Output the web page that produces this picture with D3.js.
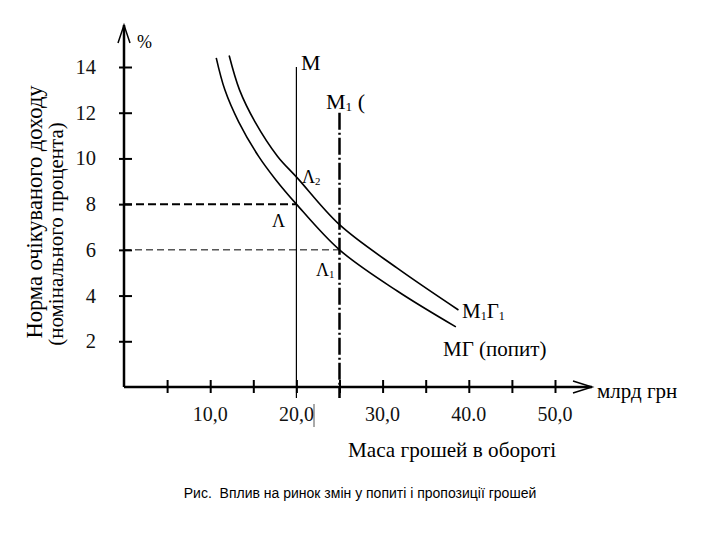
<!DOCTYPE html>
<html><head><meta charset="utf-8">
<script src="https://cdn.jsdelivr.net/npm/d3@7"></script>
<style>body{margin:0;background:#fff}svg{display:block}</style>
</head><body>
<svg id="c" width="720" height="540"></svg>
<script>
// ---- data ----
const xTicks = [5,10,15,20,25,30,35,40,45,50];
const xTickLabels = [{v:10,t:"10,0"},{v:20,t:"20,0"},{v:30,t:"30,0"},{v:40,t:"40.0"},{v:50,t:"50,0"}];
const yTicks = [2,4,6,8,10,12,14];
// demand curve МГ (x = bn UAH, y = %)
const demandX = [10.7,11.7,13.3,15.6,17.6,20.0,25.0,31.7,38.5];
const demandY = [14.4,13.0,11.6,10.1,9.07,8.0,6.0,4.2,2.63];
// shifted demand curve М1Г1
const demand1X = [12.2,13.4,15.2,17.8,20.1,25.0,31.7,38.8];
const demand1Y = [14.5,13.0,11.6,10.1,9.15,7.1,5.2,3.37];
const supplyM = 20, supplyM1 = 25;
const rateA = 8, rateA1 = 6;

const svg = d3.select("#c");
const serif = "'Liberation Serif','Times New Roman',serif";
const x = d3.scaleLinear().domain([0,50]).range([124,555]);
const y = d3.scaleLinear().domain([0,14]).range([387,67]);

// axes lines
svg.append("line").attr("x1",x(0)).attr("x2",592).attr("y1",y(0)).attr("y2",y(0)).attr("stroke","#000").attr("stroke-width",2.5);
svg.append("line").attr("x1",x(0)).attr("x2",x(0)).attr("y1",y(0)).attr("y2",25).attr("stroke","#000").attr("stroke-width",2.5);
// arrowheads
svg.append("path").attr("d",`M118,43 L124,25 L130,43`).attr("fill","none").attr("stroke","#000").attr("stroke-width",1.5);
svg.append("path").attr("d",`M573,381 L592,387 L573,393`).attr("fill","none").attr("stroke","#000").attr("stroke-width",1.5);

// axis ticks via d3 axes
const yAxis = svg.append("g").attr("transform",`translate(${x(0)},0)`)
  .call(d3.axisLeft(y).tickValues(yTicks).tickSize(5).tickFormat(""));
yAxis.select(".domain").remove();
yAxis.selectAll(".tick line").attr("x1",8).attr("x2",-5).attr("stroke","#000").attr("stroke-width",2);
const xAxis = svg.append("g").attr("transform",`translate(0,${y(0)})`)
  .call(d3.axisBottom(x).tickValues(xTicks).tickSize(6).tickFormat(""));
xAxis.select(".domain").remove();
xAxis.selectAll(".tick line").attr("y1",-7).attr("y2",6).attr("stroke","#000").attr("stroke-width",2);

// tick labels
svg.selectAll("text.yl").data(yTicks).enter().append("text")
  .attr("x",96).attr("y",d=>y(d)+7).attr("text-anchor","end")
  .attr("font-family",serif).attr("font-size",20.5).attr("fill","#111").text(d=>d);
svg.selectAll("text.xl").data(xTickLabels).enter().append("text")
  .attr("x",d=>x(d.v)).attr("y",421).attr("text-anchor","middle")
  .attr("font-family",serif).attr("font-size",20).attr("fill","#111").text(d=>d.t);
// stray cursor mark after 20,0
svg.append("line").attr("x1",314).attr("x2",314).attr("y1",404).attr("y2",427).attr("stroke","#555").attr("stroke-width",1);

// reference lines
svg.append("line").attr("x1",x(0)).attr("x2",x(supplyM)).attr("y1",y(rateA)).attr("y2",y(rateA))
  .attr("stroke","#000").attr("stroke-width",2).attr("stroke-dasharray","8,4");
svg.append("line").attr("x1",x(0)).attr("x2",x(supplyM1)).attr("y1",y(rateA1)).attr("y2",y(rateA1))
  .attr("stroke","#000").attr("stroke-width",1).attr("stroke-dasharray","7,4");
svg.append("line").attr("x1",x(supplyM)).attr("x2",x(supplyM)).attr("y1",y(14)).attr("y2",398)
  .attr("stroke","#000").attr("stroke-width",1.2);
svg.append("line").attr("x1",x(supplyM1)).attr("x2",x(supplyM1)).attr("y1",y(12)).attr("y2",398)
  .attr("stroke","#000").attr("stroke-width",2.5).attr("stroke-dasharray","17,3,2,3");

// curves
const line = d3.line().x(d=>x(d[0])).y(d=>y(d[1])).curve(d3.curveCatmullRom.alpha(0.5));
svg.append("path").attr("d",line(d3.zip(demandX,demandY))).attr("fill","none").attr("stroke","#000").attr("stroke-width",1.6);
svg.append("path").attr("d",line(d3.zip(demand1X,demand1Y))).attr("fill","none").attr("stroke","#000").attr("stroke-width",1.6);

// labels
function lab(px,py,main,sub,rest,fs){
  const t = svg.append("text").attr("x",px).attr("y",py).attr("font-family",serif).attr("font-size",fs||20).attr("fill","#000");
  t.append("tspan").text(main);
  if(sub){ t.append("tspan").attr("font-size",(fs||20)*0.6).attr("dy",2).text(sub); }
  if(rest){ t.append("tspan").attr("dy",sub?-2:0).text(rest); }
  return t;
}
lab(137,48,"%",null,null,18);
lab(301,70,"М",null,null,22);
lab(326,109,"М","1"," (",22);
lab(302,183,"Λ","2",null,18);
lab(272,227,"Λ",null,null,18);
lab(316,276,"Λ","1",null,18);
{
  const t = svg.append("text").attr("x",462).attr("y",318).attr("font-family",serif).attr("font-size",21);
  t.append("tspan").text("М");
  t.append("tspan").attr("font-size",12).attr("dy",2).text("1");
  t.append("tspan").attr("dy",-2).text("Г");
  t.append("tspan").attr("font-size",12).attr("dy",2).text("1");
}
lab(443,356,"МГ (попит)",null,null,21);
lab(597,398,"млрд грн",null,null,21);
svg.append("text").attr("x",452).attr("y",457).attr("text-anchor","middle")
  .attr("font-family",serif).attr("font-size",21.2).text("Маса грошей в обороті");
svg.append("text").attr("transform","translate(42,212) rotate(-90)").attr("text-anchor","middle")
  .attr("font-family",serif).attr("font-size",22.5).text("Норма очікуваного доходу");
svg.append("text").attr("transform","translate(63,234) rotate(-90)").attr("text-anchor","middle")
  .attr("font-family",serif).attr("font-size",21).text("(номінального процента)");
svg.append("text").attr("x",360).attr("y",498).attr("text-anchor","middle")
  .attr("font-family","'Liberation Sans',Arial,sans-serif").attr("font-size",14)
  .attr("xml:space","preserve").style("white-space","pre").text("Рис.  Вплив на ринок змін у попиті і пропозиції грошей");
</script>
</body></html>
